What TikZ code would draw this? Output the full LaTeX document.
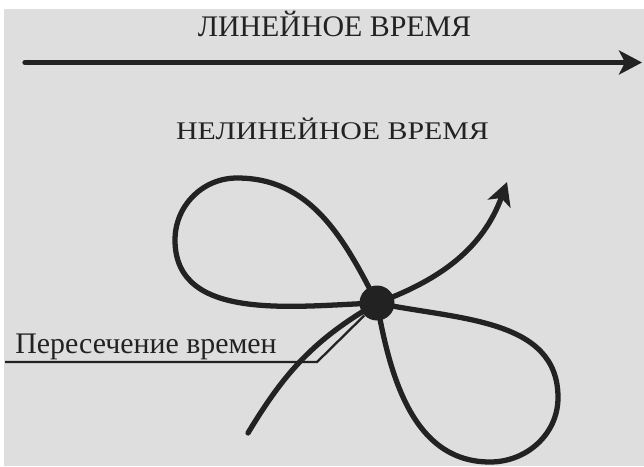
\documentclass[tikz,border=0pt]{standalone}
\usepackage{fontspec}
\setmainfont{Liberation Serif}
\usepackage{graphicx}
\usepackage{tikz}
\usetikzlibrary{positioning,arrows.meta,calc}
\definecolor{paper}{RGB}{222,222,222}
\definecolor{ink}{RGB}{34,34,34}

\begin{document}
\begin{tikzpicture}[
    title/.style={anchor=base, inner sep=0, text=ink, font=\fontsize{17}{20}\selectfont},
    curve/.style={draw=ink, line width=3pt, line cap=round},
    leader/.style={draw=ink, line width=1.3pt},
    tip/.style={-{Stealth[length=0.46cm, width=0.48cm, inset=0.12cm]}}]
    \useasboundingbox (0,0) rectangle (12.88,-9.32);
    \fill[paper] (0.08,-0.18) rectangle (12.88,-9.32);

    % linear time
    \node[title] (linear) at (6.69,-0.72) {ЛИНЕЙНОЕ ВРЕМЯ};
    \coordinate (past) at (0.5,-1.25);
    \coordinate (future) at (12.84,-1.25);
    \draw[curve, tip] (past) -- (future);

    % nonlinear time
    \node[title] (nonlinear) at (6.65,-2.78) {\scalebox{1}[0.85]{НЕЛИНЕЙНОЕ ВРЕМЯ}};
    \node[circle, fill=ink, minimum size=0.7cm, inner sep=0] (cross) at (7.54,-6.06) {};
    \coordinate (westTip) at (3.5,-4.8);
    \coordinate (northTip) at (4.74,-3.56);
    \coordinate (southTip) at (9.8,-9.24);
    \coordinate (eastTip) at (11.16,-7.95);
    \coordinate (start) at (4.96,-8.66);
    \coordinate (goal) at (10.14,-3.64);

    \draw[curve] (cross.center) to[out=182, in=-90] (westTip)
        to[out=90, in=180] (northTip) to[out=0, in=117] (cross.center);
    \draw[curve] (cross.center) to[out=-80, in=180] (southTip)
        to[out=0, in=-90] (eastTip) to[out=90, in=-12] (cross.center);
    \draw[curve, tip] (start) to[out=59, in=210] (cross.center)
        to[out=20, in=250] (goal);

    % label
    \node[title, anchor=base west] (crossing) at (0.3,-7.06) {Пересечение времен};
    \coordinate (underStart) at (0.1,-7.24);
    \coordinate (underBend) at (6.34,-7.24);
    \draw[leader] (underStart) -- (underBend) -- (cross);
\end{tikzpicture}
\end{document}
